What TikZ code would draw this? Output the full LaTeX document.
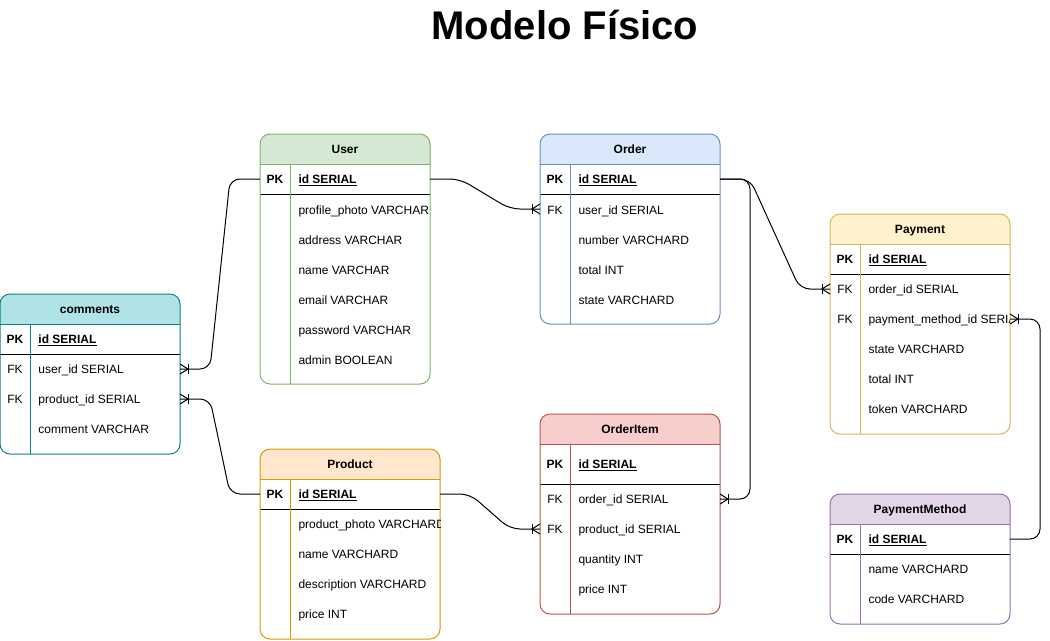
\documentclass[tikz,border=0pt]{standalone}
\usepackage{fontspec}
\setmainfont{Liberation Sans}
\usetikzlibrary{calc}
\definecolor{userF}{HTML}{D5E8D4}\definecolor{userS}{HTML}{82B366}
\definecolor{ordF}{HTML}{DAE8FC}\definecolor{ordS}{HTML}{6C8EBF}
\definecolor{payF}{HTML}{FFF2CC}\definecolor{payS}{HTML}{D6B656}
\definecolor{comF}{HTML}{B0E3E6}\definecolor{comS}{HTML}{0E8088}
\definecolor{proF}{HTML}{FFE6CC}\definecolor{proS}{HTML}{D79B00}
\definecolor{oiF}{HTML}{F8CECC}\definecolor{oiS}{HTML}{B85450}
\definecolor{pmF}{HTML}{E1D5E7}\definecolor{pmS}{HTML}{9673A6}
\tikzset{
  hdr/.style={inner sep=0pt, anchor=base, font=\fontsize{9}{11}\selectfont\bfseries},
  keyt/.style={inner sep=0pt, anchor=base, font=\fontsize{9}{11}\selectfont},
  fldt/.style={inner sep=0pt, anchor=base west, font=\fontsize{9}{11}\selectfont},
  conn/.style={draw=black, rounded corners=7.5pt},
  crow/.pic={\draw[black] (0,-5) -- (-8,0) -- (0,5); \draw[black] (-8,-5) -- (-8,5);}
}
% #1 name, #2 x1, #3 y1, #4 x2, #5 y2, #6 fill, #7 stroke, #8 title, #9 PK line y
\newcommand{\ertbl}[9]{%
  \fill[white, rounded corners=7.5pt] (#2,#3) rectangle (#4,#5);
  \begin{scope}
    \clip (#2,#3) rectangle (#4,#3+30);
    \fill[#6, rounded corners=7.5pt] (#2,#3) rectangle (#4,#5);
  \end{scope}
  \draw[#7] (#2,#3+30) -- (#4,#3+30);
  \draw[black] (#2,#9) -- (#4,#9);
  \draw[#7] (#2+30,#3+30) -- (#2+30,#5);
  \draw[#7, rounded corners=7.5pt] (#2,#3) rectangle (#4,#5);
  \node[hdr] (#1) at ({(#2+#4)/2},#3+19.5) {#8};
}
% #1 x1, #2 y, #3 key, #4 text, #5 name
\newcommand{\errow}[5]{%
  \node[keyt] at (#1+15,#2+4.5) {#3};
  \node[fldt] (#5) at (#1+38,#2+4.5) {#4};
}
\newcommand{\pkrow}[3]{%
  \node[keyt] at (#1+15,#2+4.5) {\textbf{PK}};
  \node[fldt] (#3) at (#1+38,#2+4.5) {\underline{\textbf{id SERIAL}}};
}
\begin{document}
\begin{tikzpicture}[x=0.75pt,y=-0.75pt,line width=0.75pt]
\useasboundingbox (0,0) rectangle (1050,640);
\node[font=\fontsize{30}{36}\selectfont\bfseries] (title) at (565,25) {Modelo Físico};

% User
\ertbl{user}{260}{134}{430}{384}{userF}{userS}{User}{194}
\pkrow{260}{179}{userid}
\errow{260}{210}{}{profile\_photo VARCHAR}{userphoto}
\errow{260}{240}{}{address VARCHAR}{useraddr}
\errow{260}{270}{}{name VARCHAR}{username}
\errow{260}{300}{}{email VARCHAR}{useremail}
\errow{260}{330}{}{password VARCHAR}{userpass}
\errow{260}{360}{}{admin BOOLEAN}{useradmin}

% Order
\ertbl{order}{540}{134}{720}{324}{ordF}{ordS}{Order}{194}
\pkrow{540}{179}{orderid}
\errow{540}{210}{FK}{user\_id SERIAL}{orderuser}
\errow{540}{240}{}{number VARCHARD}{ordernum}
\errow{540}{270}{}{total INT}{ordertotal}
\errow{540}{300}{}{state VARCHARD}{orderstate}

% Payment
\ertbl{payment}{830}{214}{1010}{434}{payF}{payS}{Payment}{274}
\begin{scope}
\clip (830,214) rectangle (1009,434);
\pkrow{830}{259}{payid}
\errow{830}{289}{FK}{order\_id SERIAL}{payorder}
\errow{830}{319}{FK}{payment\_method\_id SERIAL}{paymethod}
\errow{830}{349}{}{state VARCHARD}{paystate}
\errow{830}{379}{}{total INT}{paytotal}
\errow{830}{409}{}{token VARCHARD}{paytoken}
\end{scope}

% comments
\ertbl{comments}{0}{294}{180}{454}{comF}{comS}{comments}{354}
\pkrow{0}{339}{comid}
\errow{0}{369}{FK}{user\_id SERIAL}{comuser}
\errow{0}{399}{FK}{product\_id SERIAL}{comprod}
\errow{0}{429}{}{comment VARCHAR}{comtext}

% Product
\ertbl{product}{260}{449}{440}{639}{proF}{proS}{Product}{509}
\begin{scope}
\clip (260,449) rectangle (440,639);
\pkrow{260}{494}{prodid}
\errow{260}{524}{}{product\_photo VARCHARD}{prodphoto}
\errow{260}{554}{}{name VARCHARD}{prodname}
\errow{260}{584}{}{description VARCHARD}{proddesc}
\errow{260}{614}{}{price INT}{prodprice}
\end{scope}

% OrderItem
\ertbl{orderitem}{540}{414}{720}{614}{oiF}{oiS}{OrderItem}{484}
\pkrow{540}{464}{oiid}
\errow{540}{499}{FK}{order\_id SERIAL}{oiorder}
\errow{540}{529}{FK}{product\_id SERIAL}{oiprod}
\errow{540}{559}{}{quantity INT}{oiqty}
\errow{540}{589}{}{price INT}{oiprice}

% PaymentMethod
\ertbl{paymentmethod}{830}{494}{1010}{624}{pmF}{pmS}{PaymentMethod}{554}
\pkrow{830}{539}{pmid}
\errow{830}{569}{}{name VARCHARD}{pmname}
\errow{830}{599}{}{code VARCHARD}{pmcode}

% attachment points
\coordinate (userPKl) at (260,179);
\coordinate (userPKr) at (430,179);
\coordinate (orderPKr) at (720,179);
\coordinate (orderFKl) at (540,209);
\coordinate (payFKl) at (830,289);
\coordinate (payFKr) at (1010,319);
\coordinate (comFKa) at (180,369);
\coordinate (comFKb) at (180,399);
\coordinate (prodPKl) at (260,494);
\coordinate (prodPKr) at (440,494);
\coordinate (oiFKr) at (720,499);
\coordinate (oiFKl) at (540,529);
\coordinate (pmPKr) at (1010,539);

% connectors
\draw[conn] (userPKl) -- ($(userPKl)+(-30,0)$) -- ($(comFKa)+(30,0)$) -- (comFKa);
\draw[conn] (comFKb) -- ($(comFKb)+(30,0)$) -- ($(prodPKl)+(-30,0)$) -- (prodPKl);
\draw[conn] (userPKr) -- ($(userPKr)+(30,0)$) -- ($(orderFKl)+(-30,0)$) -- (orderFKl);
\draw[conn] (orderPKr) -- ($(orderPKr)+(30,0)$) -- ($(payFKl)+(-30,0)$) -- (payFKl);
\draw[conn] (orderPKr) -- ($(orderPKr)+(30,0)$) -- ($(oiFKr)+(30,0)$) -- (oiFKr);
\draw[conn] (prodPKr) -- ($(prodPKr)+(30,0)$) -- ($(oiFKl)+(-30,0)$) -- (oiFKl);
\draw[conn] (pmPKr) -- ($(pmPKr)+(30,0)$) -- ($(payFKr)+(30,0)$) -- (payFKr);

% crow's feet
\pic at (comFKa) [xscale=-1] {crow};
\pic at (comFKb) [xscale=-1] {crow};
\pic at (orderFKl) {crow};
\pic at (payFKl) {crow};
\pic at (oiFKr) [xscale=-1] {crow};
\pic at (oiFKl) {crow};
\pic at (payFKr) [xscale=-1] {crow};
\end{tikzpicture}
\end{document}
